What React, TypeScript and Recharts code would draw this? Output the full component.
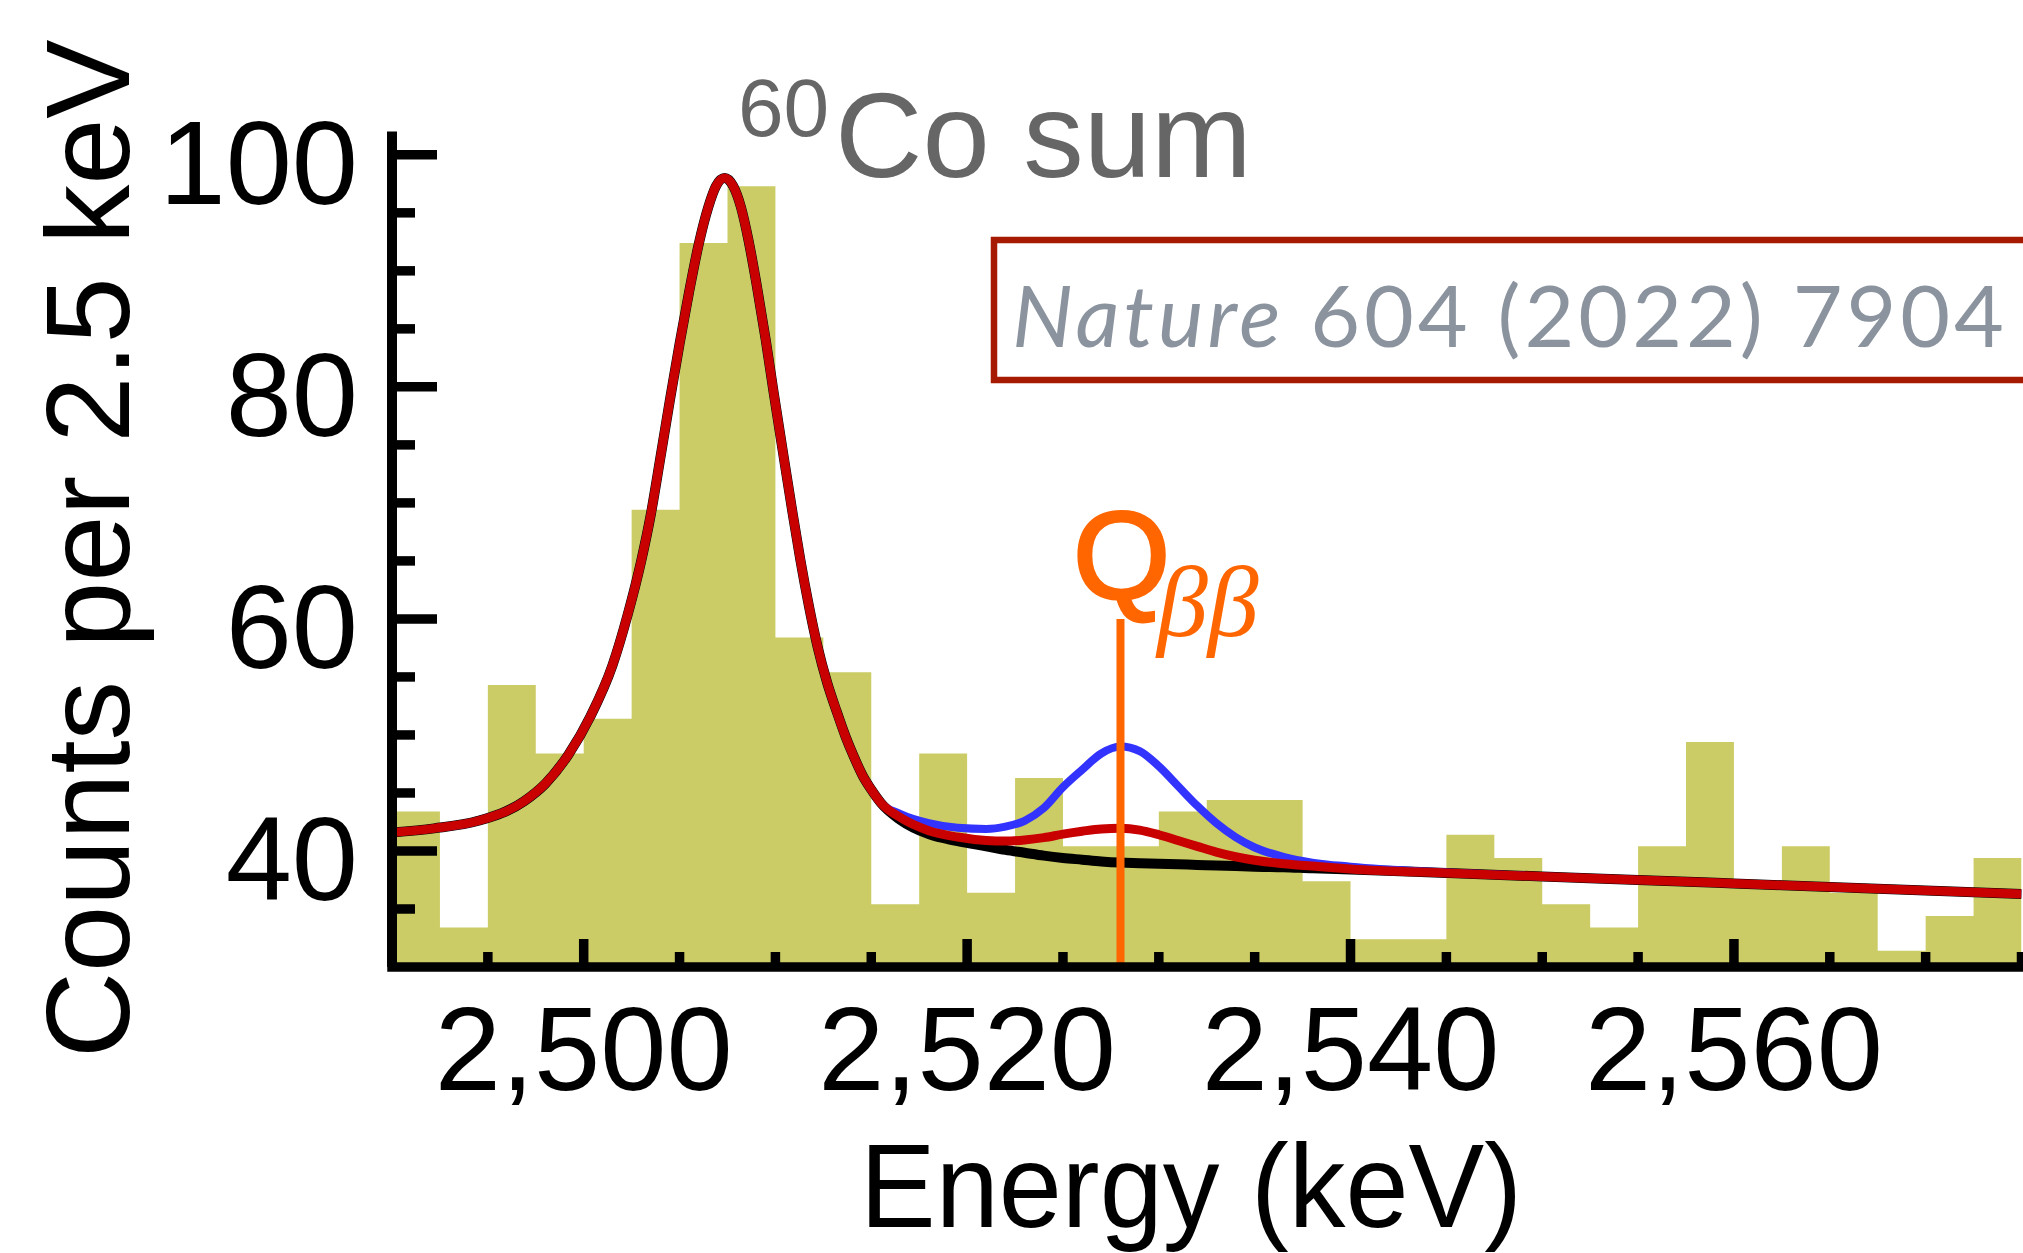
import React from 'react';
import { ComposedChart, Area, Line, XAxis, YAxis } from 'recharts';

// ---------- data ----------
// histogram: edges of the 2.5 keV bins (the last one is the right edge of the last bin)
const BIN_EDGES = [
  2490, 2492.5, 2495, 2497.5, 2500, 2502.5, 2505, 2507.5, 2510, 2512.5,
  2515, 2517.5, 2520, 2522.5, 2525, 2527.5, 2530, 2532.5, 2535, 2537.5,
  2540, 2542.5, 2545, 2547.5, 2550, 2552.5, 2555, 2557.5, 2560, 2562.5,
  2565, 2567.5, 2570, 2572.5, 2575,
];
const BIN_COUNTS = [
  43.4, 33.4, 54.3, 48.4, 51.4, 69.4, 92.4, 97.3, 58.4, 55.4,
  35.4, 48.4, 36.4, 46.3, 40.4, 40.4, 43.4, 44.4, 44.4, 37.4,
  32.4, 32.4, 41.4, 39.4, 35.4, 33.4, 40.4, 49.4, 37.4, 40.4,
  36.4, 31.4, 34.4, 39.4,
];

// fit curves
// part shared by all three curves: the 60Co sum peak
const PEAK_X = [
  2490, 2492.2, 2494.5, 2496.9, 2498, 2499.2, 2500.35, 2501.5, 2502.3, 2503,
  2503.5, 2504, 2504.5, 2505, 2505.5, 2506, 2506.5, 2506.9, 2507.35, 2507.8,
  2508.2, 2508.6, 2509, 2509.5, 2509.9, 2510.4, 2510.85, 2511.3, 2511.75, 2512.2,
  2512.7, 2513.2, 2513.65, 2514.1, 2514.55, 2515, 2515.5,
];
const PEAK_COUNTS = [
  41.6, 41.95, 42.6, 44.3, 45.8, 48.3, 51.6, 56.0, 60.4, 65.0,
  69.0, 73.9, 78.9, 83.7, 88.2, 92.3, 95.5, 97.3, 98.0, 97.3,
  95.5, 92.6, 89.0, 84.0, 79.6, 74.3, 69.6, 65.1, 61.1, 57.6,
  54.5, 52.0, 49.9, 48.1, 46.5, 45.3, 44.15,
];
// region around Q_bb where the three curves differ
const TAIL_X = [
  2516.5, 2518, 2519.5, 2521, 2522, 2523, 2524, 2525, 2526, 2527,
  2528, 2529, 2530, 2531, 2532, 2533, 2534, 2535, 2536.5, 2538,
  2540, 2545, 2550, 2555, 2560, 2565, 2570, 2575,
];
const TAIL_BACKGROUND = [
  42.7, 41.45, 40.85, 40.4, 40.1, 39.85, 39.6, 39.4, 39.25, 39.1,
  39.0, 38.95, 38.9, 38.85, 38.8, 38.75, 38.7, 38.65, 38.6, 38.5,
  38.4, 38.1, 37.8, 37.5, 37.2, 36.9, 36.6, 36.3,
];
const TAIL_BEST_FIT = [
  42.9, 41.75, 41.2, 40.9, 40.85, 40.95, 41.15, 41.45, 41.7, 41.9,
  41.95, 41.8, 41.4, 40.9, 40.4, 39.9, 39.5, 39.2, 38.9, 38.7,
  38.45, 38.1, 37.8, 37.5, 37.2, 36.9, 36.6, 36.3,
];
const TAIL_SIGNAL = [
  43.2, 42.4, 42.0, 41.9, 42.1, 42.6, 43.7, 45.5, 47.0, 48.4,
  49.0, 48.6, 47.3, 45.6, 43.9, 42.4, 41.2, 40.3, 39.5, 39.0,
  38.65, 38.15, 37.8, 37.5, 37.2, 36.9, 36.6, 36.3,
];

const Q_BB = 2528;
const Q_LINE = [30, 60];

const X_DOMAIN = [2490, 2575];
const Y_DOMAIN = [30, 102];
const X_TICKS = [2495, 2500, 2505, 2510, 2515, 2520, 2525, 2530, 2535, 2540, 2545, 2550, 2555, 2560, 2565, 2570, 2575];
const X_MAJOR = [2500, 2520, 2540, 2560];
const Y_TICKS = [35, 40, 45, 50, 55, 60, 65, 70, 75, 80, 85, 90, 95, 100];
const Y_MAJOR = [40, 60, 80, 100];

// ---------- tables built from the arrays ----------
const histData = BIN_EDGES.map((x, i) => ({ x, counts: BIN_COUNTS[Math.min(i, BIN_COUNTS.length - 1)] }));
const curveX = [...PEAK_X, ...TAIL_X];
const bgSeries = [...PEAK_COUNTS, ...TAIL_BACKGROUND];
const bestSeries = [...PEAK_COUNTS, ...TAIL_BEST_FIT];
const sigSeries = [...PEAK_COUNTS, ...TAIL_SIGNAL];
const curveData = curveX.map((x, i) => ({ x, background: bgSeries[i], best: bestSeries[i], signal: sigSeries[i] }));
const qData = Q_LINE.map((q) => ({ x: Q_BB, q }));

const SANS = '"Liberation Sans", Arial, Helvetica, sans-serif';
const SERIF = '"Liberation Serif", "Times New Roman", serif';
const TICK_FONT = 119;

const XTick = (props: any) => {
  const { x, y, payload } = props;
  const v = payload.value;
  const major = X_MAJOR.includes(v);
  return (
    <g>
      <line x1={x} x2={x} y1={y} y2={y - (major ? 28 : 15)} stroke="#000" strokeWidth={9.5} />
      {major && (
        <text x={x} y={y + 123} textAnchor="middle" fontFamily={SANS} fontSize={TICK_FONT} fill="#000">
          {v.toLocaleString('en-US')}
        </text>
      )}
    </g>
  );
};

const YTick = (props: any) => {
  const { x, y, payload } = props;
  const v = payload.value;
  const major = Y_MAJOR.includes(v);
  return (
    <g>
      <line x1={x} x2={x + (major ? 45 : 23)} y1={y} y2={y} stroke="#000" strokeWidth={9.5} />
      {major && (
        <text x={358} y={y + 49} textAnchor="end" fontFamily={SANS} fontSize={TICK_FONT} fill="#000">
          {v}
        </text>
      )}
    </g>
  );
};

export default function App() {
  return (
    <div style={{ position: 'absolute', left: 0, top: 0, width: 2023, height: 1253, background: '#fff' }}>
      <ComposedChart
        width={2023}
        height={1253}
        data={curveData}
        margin={{ top: 131.6, right: 1.5, bottom: 0, left: 0 }}
      >
        <XAxis
          type="number"
          dataKey="x"
          domain={X_DOMAIN}
          ticks={X_TICKS}
          interval={0}
          allowDataOverflow
          height={286}
          tickSize={0}
          tickMargin={0}
          tickLine={false}
          axisLine={{ stroke: '#000', strokeWidth: 9.5, strokeLinecap: 'square' }}
          tick={(p: any) => <XTick {...p} />}
        />
        <YAxis
          type="number"
          domain={Y_DOMAIN}
          ticks={Y_TICKS}
          interval={0}
          allowDataOverflow
          width={392}
          tickSize={0}
          tickMargin={0}
          tickLine={false}
          axisLine={{ stroke: '#000', strokeWidth: 10 }}
          tick={(p: any) => <YTick {...p} />}
        />
        <Area
          data={histData}
          dataKey="counts"
          type="stepAfter"
          fill="#cccc66"
          fillOpacity={1}
          stroke="none"
          isAnimationActive={false}
          dot={false}
          activeDot={false}
        />
        <Line dataKey="background" type="monotone" stroke="#000" strokeWidth={10} dot={false} activeDot={false} isAnimationActive={false} />
        <Line dataKey="signal" type="monotone" stroke="#3333ff" strokeWidth={8} dot={false} activeDot={false} isAnimationActive={false} />
        <Line dataKey="best" type="monotone" stroke="#c80000" strokeWidth={9} dot={false} activeDot={false} isAnimationActive={false} />
        <Line data={qData} dataKey="q" type="linear" stroke="#ff6600" strokeWidth={8} dot={false} activeDot={false} isAnimationActive={false} />
      </ComposedChart>
      <svg
        width={2023}
        height={1253}
        style={{ position: 'absolute', left: 0, top: 0, pointerEvents: 'none' }}
      >
        <text x={738} y={136} fontFamily={SANS} fontSize={82} fill="#666666">60</text>
        <text x={835} y={177} fontFamily={SANS} fontSize={121} fill="#666666">Co sum</text>
        <rect x={994} y={240} width={1100} height={140} fill="none" stroke="#a51a00" strokeWidth={6.5} />
        <text
          x={1012}
          y={347}
          fontFamily='Lato, "Open Sans", sans-serif'
          fontWeight={400}
          fontSize={86}
          fill="#8a939e"
          textLength={992}
          lengthAdjust="spacing"
        >
          <tspan fontStyle="italic">Nature</tspan> 604 (2022) 7904
        </text>
        <text x={1073} y={598} fontFamily={SANS} fontWeight={400} fontSize={125} fill="#ff6600">
          <tspan stroke="#ff6600" strokeWidth={3}>Q</tspan>
          <tspan x={1157} y={636} fontFamily={SERIF} fontStyle="italic" fontSize={102}>ββ</tspan>
        </text>
        <text x={860} y={1227} fontFamily={SANS} fontSize={119} fill="#000" textLength={662} lengthAdjust="spacingAndGlyphs">
          Energy (keV)
        </text>
        <text
          x={129}
          y={1058}
          transform="rotate(-90 129 1058)"
          fontFamily={SANS}
          fontSize={119}
          fill="#000"
        >
          Counts per 2.5 keV
        </text>
      </svg>
    </div>
  );
}
